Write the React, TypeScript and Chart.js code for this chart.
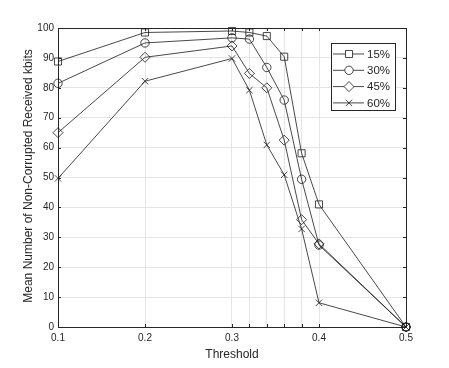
import React, { useEffect, useRef } from 'react';
import { Chart, registerables } from 'chart.js';
import { drawPoint } from 'chart.js/helpers';

Chart.register(...registerables);

const thresholds = [0.1, 0.2, 0.3, 0.32, 0.34, 0.36, 0.38, 0.4, 0.5];
const series15 = [88.8, 98.5, 99.0, 98.5, 97.3, 90.4, 58.1, 41.0, 0];
const series30 = [81.5, 95.0, 96.7, 96.3, 86.8, 75.9, 49.4, 27.4, 0];
const series45 = [65.0, 90.2, 94.0, 84.8, 80.0, 62.5, 35.9, 27.8, 0];
const series60 = [49.7, 82.2, 89.8, 79.2, 60.9, 50.9, 32.8, 8.1, 0];
const seriesLabels = ['15%', '30%', '45%', '60%'];
const xTickLabels = [0.1, 0.2, 0.3, 0.4, 0.5];
const xGridTicks = [0.1, 0.2, 0.3, 0.32, 0.34, 0.36, 0.38, 0.4, 0.5];
const yTicks = [0, 10, 20, 30, 40, 50, 60, 70, 80, 90, 100];
const xTitle = 'Threshold';
const yTitle = 'Mean Number of Non-Corrupted Received kbits';

const FONT = '"Liberation Sans", Arial, Helvetica, sans-serif';
const AXIS = '#262626';
const LINE = '#1a1a1a';

const styles = ['rect', 'circle', 'rectRot', 'crossRot'];
const radii = [5, 4.2, 5, 4.5];
const allSeries = [series15, series30, series45, series60];

const framePlugin = {
  id: 'frame',
  beforeDatasetsDraw(chart: any) {
    const { ctx, chartArea } = chart;
    const { left, right, top, bottom } = chartArea;
    const xs = chart.scales.x;
    const ys = chart.scales.y;
    ctx.save();
    ctx.strokeStyle = AXIS;
    ctx.lineWidth = 1;
    ctx.beginPath();
    ctx.rect(Math.round(left) + 0.5, Math.round(top) + 0.5, Math.round(right - left), Math.round(bottom - top));
    ctx.stroke();
    ctx.beginPath();
    xGridTicks.forEach((v) => {
      const px = Math.round(xs.getPixelForValue(v)) + 0.5;
      ctx.moveTo(px, bottom);
      ctx.lineTo(px, bottom - 3);
      ctx.moveTo(px, top);
      ctx.lineTo(px, top + 3);
    });
    yTicks.forEach((v) => {
      const py = Math.round(ys.getPixelForValue(v)) + 0.5;
      ctx.moveTo(left, py);
      ctx.lineTo(left + 3, py);
      ctx.moveTo(right, py);
      ctx.lineTo(right - 3, py);
    });
    ctx.stroke();
    ctx.restore();
  },
  afterDraw(chart: any) {
    const { ctx, chartArea } = chart;
    const { left, right, top, bottom } = chartArea;
    ctx.save();
    // titles
    ctx.fillStyle = AXIS;
    ctx.font = `12px ${FONT}`;
    ctx.textAlign = 'center';
    ctx.textBaseline = 'middle';
    ctx.fillText(xTitle, (left + right) / 2, bottom + 28);
    ctx.save();
    ctx.translate(29, (top + bottom) / 2 - 1.5);
    ctx.rotate(-Math.PI / 2);
    ctx.fillText(yTitle, 0, 0);
    ctx.restore();

    // legend
    const bx = right - 75;
    const by = top + 15;
    const bw = 64;
    const bh = 67;
    ctx.fillStyle = '#ffffff';
    ctx.fillRect(bx, by, bw, bh);
    ctx.strokeStyle = '#262626';
    ctx.lineWidth = 1;
    ctx.strokeRect(Math.round(bx) + 0.5, Math.round(by) + 0.5, bw, bh);
    chart.data.datasets.forEach((ds: any, i: number) => {
      const yy = by + 11 + i * 16.3;
      ctx.strokeStyle = LINE;
      ctx.lineWidth = 0.8;
      ctx.beginPath();
      ctx.moveTo(bx + 2, yy);
      ctx.lineTo(bx + 33, yy);
      ctx.stroke();
      ctx.fillStyle = '#ffffff';
      drawPoint(ctx, { pointStyle: ds.pointStyle, radius: ds.pointRadius, rotation: 0, borderWidth: 0.8 } as any, bx + 18, yy);
      ctx.fillStyle = AXIS;
      ctx.font = `11.5px ${FONT}`;
      ctx.textAlign = 'left';
      ctx.textBaseline = 'middle';
      ctx.fillText(ds.label, bx + 36, yy + 0.5);
    });
    ctx.restore();
  },
};

export default function App() {
  const ref = useRef<HTMLCanvasElement>(null);
  useEffect(() => {
    if (!ref.current) return;
    const datasets = allSeries.map((s, i) => ({
      label: seriesLabels[i],
      data: thresholds.map((t, j) => ({ x: t, y: s[j] })),
      borderColor: LINE,
      borderWidth: 0.8,
      pointStyle: styles[i],
      pointRadius: radii[i],
      pointBorderColor: LINE,
      pointBorderWidth: 0.8,
      pointBackgroundColor: 'rgba(0,0,0,0)',
      tension: 0,
      fill: false,
      clip: false as any,
    }));
    const chart = new Chart(ref.current, {
      type: 'line',
      data: { datasets },
      options: {
        animation: false,
        responsive: false,
        layout: { padding: { left: 0, top: 28, right: 43, bottom: 0 } },
        plugins: { legend: { display: false }, tooltip: { enabled: false } },
        scales: {
          x: {
            type: 'linear',
            min: 0.1,
            max: 0.5,
            afterBuildTicks: (scale: any) => {
              scale.ticks = xGridTicks.map((v) => ({ value: v }));
            },
            afterFit: (scale: any) => {
              scale.height = 41;
            },
            grid: { color: '#e4e4e4', drawTicks: false, lineWidth: 1 },
            border: { display: false },
            ticks: {
              autoSkip: false,
              maxRotation: 0,
              padding: 5,
              color: AXIS,
              font: { family: FONT, size: 10 },
              callback: (value: any) => (xTickLabels.some((t) => Math.abs(t - value) < 1e-9) ? Number(value).toFixed(1) : ''),
            },
          },
          y: {
            type: 'linear',
            min: 0,
            max: 100,
            afterBuildTicks: (scale: any) => {
              scale.ticks = yTicks.map((v) => ({ value: v }));
            },
            afterFit: (scale: any) => {
              scale.width = 58;
            },
            grid: { color: '#e4e4e4', drawTicks: false, lineWidth: 1 },
            border: { display: false },
            ticks: {
              padding: 4,
              color: AXIS,
              font: { family: FONT, size: 10 },
              callback: (value: any) => String(value),
            },
          },
        },
      },
      plugins: [framePlugin],
    });
    return () => chart.destroy();
  }, []);
  return (
    <div style={{ position: 'absolute', left: 0, top: 0, width: 449, height: 368, background: '#fff' }}>
      <canvas ref={ref} width={449} height={368} />
    </div>
  );
}
